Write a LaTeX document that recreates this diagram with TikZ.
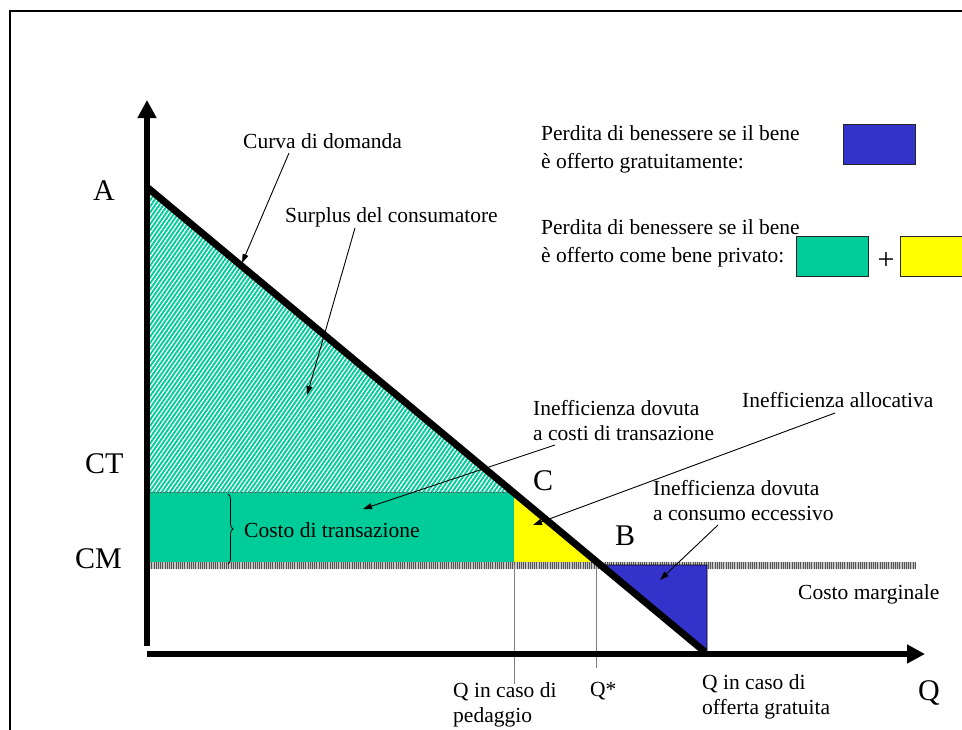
\documentclass[tikz,border=0pt]{standalone}
\usepackage{fontspec}
\setmainfont{Liberation Serif}
\usetikzlibrary{arrows.meta,patterns,patterns.meta,decorations.pathreplacing}
\definecolor{verde}{RGB}{0,204,153}
\definecolor{blu}{RGB}{51,51,204}
\definecolor{giallo}{RGB}{255,255,0}
\begin{document}
\begin{tikzpicture}[x=1pt,y=-1pt,
  lbl/.style={inner sep=0pt, anchor=base west, font=\fontsize{21.5}{25}\selectfont, align=left},
  leg/.style={inner sep=0pt, anchor=base west, font=\fontsize{21.5}{28}\selectfont, align=left},
  big/.style={inner sep=0pt, anchor=base west, font=\fontsize{30}{30}\selectfont},
  ann/.style={line width=0.9pt, -{Triangle[length=9pt,width=6pt]}},
  axisline/.style={line width=6pt, -{Triangle[length=18pt,width=18pt]}},
  legbox/.style={draw=black!85, line width=1pt, minimum width=72pt, minimum height=40pt, inner sep=0pt},
  guide/.style={gray, line width=0.7pt}]
\useasboundingbox (0,0) rectangle (962,729);
% frame
\draw[line width=2pt] (10,740) -- (10,11) -- (975,11);
% coordinates
\coordinate (Atop) at (148,188);
\coordinate (Dend) at (705,652);
\coordinate (Cpt) at (513,492);
\coordinate (Bpt) at (601,565);
% consumer surplus (hatched)
\fill[white] (147,188) -- (147,492) -- (Cpt) -- cycle;
\fill[pattern={Lines[angle=55,distance=3.4pt,line width=1.9pt]}, pattern color=verde] (147,188) -- (147,492) -- (Cpt) -- cycle;
% transaction cost rectangle
\fill[verde] (147,492) rectangle (514,565);
\draw[gray!70!black, densely dotted, line width=0.8pt] (147,492) -- (Cpt);
% yellow triangle
\fill[giallo] (514,492) -- (514,565) -- (Bpt) -- cycle;
% marginal cost band
\fill[gray!45] (147,562) rectangle (916,569);
\fill[pattern={Lines[angle=90,distance=2.2pt,line width=0.9pt]}, pattern color=gray!65!black] (147,562) rectangle (916,569);
% blue triangle
\filldraw[fill=blu, draw=black, line width=0.8pt] (Bpt) -- (707,565) -- (707,653) -- cycle;
% guide lines
\coordinate (gp1) at (514,565);
\coordinate (gp2) at (514,684);
\coordinate (gs1) at (596,565);
\coordinate (gs2) at (596,668);
\draw[guide] (gp1) -- (gp2);
\draw[guide] (gs1) -- (gs2);
% axes
\coordinate (yo) at (147,646);
\coordinate (yt) at (147,100);
\coordinate (xo) at (147,654);
\coordinate (xt) at (925,654);
\draw[axisline] (yo) -- (yt);
\draw[axisline] (xo) -- (xt);
% demand line
\draw[line width=7pt] (Atop) -- (Dend);
% brace
\draw[decorate, decoration={brace, amplitude=5pt}, line width=0.8pt] (228,494) -- (228,564);
% big labels
\node[big] (lA) at (93,200) {A};
\node[big] (lCT) at (85,473) {CT};
\node[big] (lCM) at (75,568) {CM};
\node[big] (lC) at (533,490) {C};
\node[big] (lB) at (615,545) {B};
\node[big] (lQ) at (918,700) {Q};
% labels (base = baseline of the last line)
\node[lbl] (tCurva) at (243,148) {Curva di domanda};
\node[lbl] (tSurplus) at (285,222) {Surplus del consumatore};
\node[lbl] (tCosti) at (533,440) {Inefficienza dovuta\\a costi di transazione};
\node[lbl] (tAlloc) at (742,407) {Inefficienza allocativa};
\node[lbl] (tConsumo) at (653,520) {Inefficienza dovuta\\a consumo eccessivo};
\node[lbl] (tTrans) at (244,537) {Costo di transazione};
\node[lbl] (tCM) at (798,599) {Costo marginale};
\node[lbl] (tQped) at (453,722) {Q in caso di\\pedaggio};
\node[lbl] (tQstar) at (590,696) {Q*};
\node[lbl] (tQgrat) at (702,714) {Q in caso di\\offerta gratuita};
% annotation arrows
\coordinate (s1) at (289,153); \coordinate (e1) at (242,263);
\coordinate (s2) at (355,228); \coordinate (e2) at (307,395);
\coordinate (s3) at (555,445); \coordinate (e3) at (363,509);
\coordinate (s4) at (835,413); \coordinate (e4) at (533,525);
\coordinate (s5) at (718,525); \coordinate (e5) at (660,580);
\draw[ann] (s1) -- (e1);
\draw[ann] (s2) -- (e2);
\draw[ann] (s3) -- (e3);
\draw[ann] (s4) -- (e4);
\draw[ann] (s5) -- (e5);
% legend
\node[leg] (leg1) at (541,168) {Perdita di benessere se il bene\\è offerto gratuitamente:};
\node[leg] (leg2) at (541,262) {Perdita di benessere se il bene\\è offerto come bene privato:};
\node[legbox, fill=blu] (boxB) at (879.5,144) {};
\node[legbox, fill=verde] (boxG) at (832,256) {};
\node[inner sep=0pt, font=\fontsize{30}{30}\selectfont] (plus) at (886,261) {+};
\node[legbox, fill=giallo, minimum width=80pt, anchor=west] (boxY) at (900,256) {};
\end{tikzpicture}
\end{document}
